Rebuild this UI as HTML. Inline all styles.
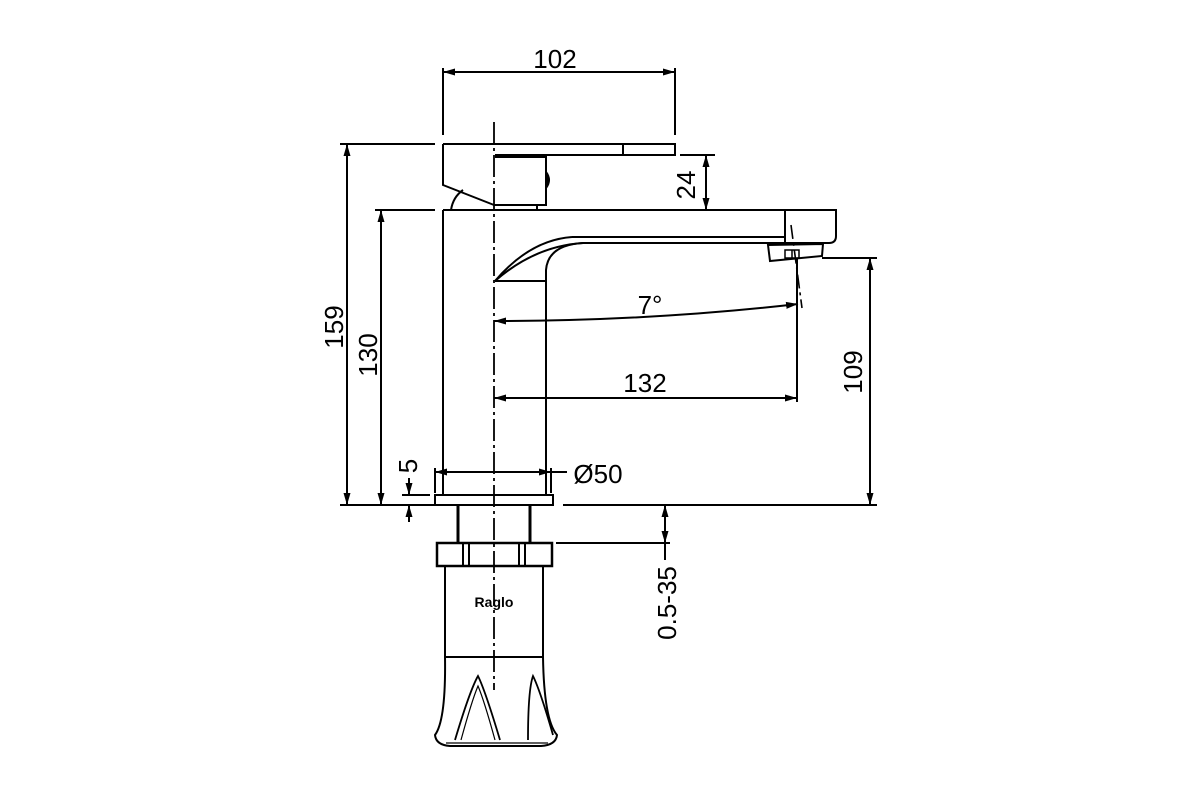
<!DOCTYPE html>
<html><head><meta charset="utf-8"><style>
html,body{margin:0;padding:0;background:#fff}
svg{display:block}
text{font-family:"Liberation Sans",sans-serif;font-size:26px;fill:#000}
</style></head><body>
<svg width="1200" height="800" viewBox="0 0 1200 800" xmlns="http://www.w3.org/2000/svg">
<defs>
<marker id="a" viewBox="0 0 12 8" refX="12" refY="4" markerWidth="12" markerHeight="8" markerUnits="userSpaceOnUse" orient="auto-start-reverse"><path d="M0,0.5 L12,4 L0,7.5 z" fill="#000"/></marker>
</defs>
<g fill="none" stroke="#000" stroke-width="2">
<line x1="494" y1="122" x2="494" y2="690" stroke-dasharray="22,4,3,4" stroke-width="1.8"/>
<path d="M443,144 H675 V155 H495"/>
<line x1="623" y1="144" x2="623" y2="155"/>
<path d="M443,144 V185 L494,205"/>
<path d="M495,157 H546 V205 H494"/>
<path d="M502,155 Q498,157 495,157"/>
<path d="M546,172 Q552,180 546,188" fill="#000"/>
<line x1="537" y1="205" x2="537" y2="210"/>
<path d="M451,210 Q453,197 463,190"/>
<path d="M443,210 H836 V236 Q836,243 829,243 H785"/>
<line x1="785" y1="210" x2="785" y2="243"/>
<path d="M572,237 H785"/>
<path d="M583,243 H785"/>
<path d="M495,281 Q530,240 572,237"/>
<path d="M495,281 Q535,246 583,243"/>
<path d="M546,281 V270 Q548,245 583,243"/>
<line x1="495" y1="281" x2="546" y2="281"/>
<line x1="443" y1="210" x2="443" y2="495"/>
<line x1="546" y1="281" x2="546" y2="495"/>
<path d="M768,245 L823,244 L822,256 L770,261 Z"/>
<rect x="785" y="250" width="14" height="8" stroke-width="1.5"/>
<line x1="792" y1="250" x2="792" y2="258" stroke-width="1.5"/>
<rect x="435" y="495" width="118" height="10"/>
<line x1="458" y1="505" x2="458" y2="543" stroke-width="3"/>
<line x1="530" y1="505" x2="530" y2="543" stroke-width="3"/>
<rect x="437" y="543" width="115" height="23" stroke-width="2.5"/>
<line x1="463" y1="543" x2="463" y2="566"/>
<line x1="469" y1="543" x2="469" y2="566"/>
<line x1="519" y1="543" x2="519" y2="566"/>
<line x1="525" y1="543" x2="525" y2="566"/>
<path d="M445,566 V657 H543 V566"/>
<path d="M445,657 Q446,720 435,735 Q436,745 450,746 H541 Q556,745 557,735 Q544,720 543,657"/>
<path d="M446,743 H548" stroke-width="1.3"/>
<path d="M455,740 Q470,690 478,676 Q485,690 500,740" stroke-width="1.8"/>
<path d="M461,740 Q472,700 478,686 Q484,700 495,740" stroke-width="1.2"/>
<path d="M528,740 Q528,690 533,676 Q540,690 553,735" stroke-width="1.8"/>
<line x1="443" y1="68" x2="443" y2="135"/>
<line x1="675" y1="68" x2="675" y2="135"/>
<line x1="443" y1="72" x2="675" y2="72" marker-start="url(#a)" marker-end="url(#a)"/>
<line x1="340" y1="144" x2="435" y2="144"/>
<line x1="375" y1="210" x2="435" y2="210"/>
<line x1="340" y1="505" x2="435" y2="505"/>
<line x1="563" y1="505" x2="877" y2="505"/>
<line x1="347" y1="144" x2="347" y2="505" marker-start="url(#a)" marker-end="url(#a)"/>
<line x1="381" y1="210" x2="381" y2="505" marker-start="url(#a)" marker-end="url(#a)"/>
<line x1="402" y1="495" x2="430" y2="495"/>
<line x1="409" y1="478" x2="409" y2="495" marker-end="url(#a)"/>
<line x1="409" y1="522" x2="409" y2="505" marker-end="url(#a)"/>
<line x1="435" y1="468" x2="435" y2="493"/>
<line x1="551" y1="468" x2="551" y2="493"/>
<line x1="435" y1="472" x2="551" y2="472" marker-start="url(#a)" marker-end="url(#a)"/>
<line x1="551" y1="472" x2="567" y2="472"/>
<line x1="680" y1="155" x2="715" y2="155"/>
<line x1="706" y1="155" x2="706" y2="210" marker-start="url(#a)" marker-end="url(#a)"/>
<line x1="822" y1="258" x2="877" y2="258"/>
<line x1="870" y1="258" x2="870" y2="505" marker-start="url(#a)" marker-end="url(#a)"/>
<line x1="556" y1="543" x2="670" y2="543"/>
<line x1="665" y1="505" x2="665" y2="543" marker-start="url(#a)" marker-end="url(#a)"/>
<line x1="665" y1="543" x2="665" y2="560"/>
<line x1="797" y1="258" x2="797" y2="402"/>
<line x1="494" y1="398" x2="797" y2="398" marker-start="url(#a)" marker-end="url(#a)"/>
<path d="M494,321 Q650,321 798,304" marker-start="url(#a)" marker-end="url(#a)"/>
<line x1="791" y1="225" x2="802" y2="308" stroke-dasharray="14,4,3,4" stroke-width="1.6"/>
</g>
<text x="555" y="68" text-anchor="middle">102</text>
<text x="650" y="314" text-anchor="middle">7°</text>
<text x="645" y="392" text-anchor="middle">132</text>
<text x="598" y="483" text-anchor="middle">Ø50</text>
<text transform="translate(343,327) rotate(-90)" text-anchor="middle">159</text>
<text transform="translate(377,355) rotate(-90)" text-anchor="middle">130</text>
<text transform="translate(417,466) rotate(-90)" text-anchor="middle">5</text>
<text transform="translate(695,185) rotate(-90)" text-anchor="middle">24</text>
<text transform="translate(862,372) rotate(-90)" text-anchor="middle">109</text>
<text transform="translate(676,603) rotate(-90)" text-anchor="middle">0.5-35</text>
<text x="494" y="607" text-anchor="middle" style="font-size:14px;font-weight:bold">Raglo</text>
</svg>
</body></html>
